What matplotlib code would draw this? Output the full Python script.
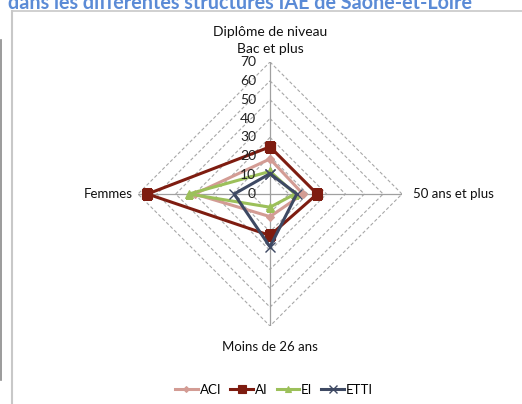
import numpy as np
import matplotlib
matplotlib.use("Agg")
import matplotlib.pyplot as plt
from matplotlib.lines import Line2D

plt.rcParams['font.family'] = ['Lato', 'DejaVu Sans']

axes_labels = ["Diplôme de niveau\nBac et plus", "50 ans et plus", "Moins de 26 ans", "Femmes"]
series_names = ["ACI", "AI", "EI", "ETTI"]
aci = [18.6, 17.5, 12, 40]
ai = [25, 25, 22, 65]
ei = [12, 13.3, 7, 43]
etti = [10.8, 14.2, 28, 19]
r_ticks = [0, 10, 20, 30, 40, 50, 60, 70]
title = "dans les différentes structures IAE de Saône-et-Loire"

colors = ["#D39C94", "#7E1C10", "#9CC05A", "#3E4963"]
markers = ["D", "s", "^", "x"]
msizes = [4, 7, 6, 7]

fig = plt.figure(figsize=(5.22, 4.04), dpi=100)
W, H = 522, 404

cx, cy, R = 270, 194, 132
ax = fig.add_axes([(cx - R) / W, 1 - (cy + R) / H, 2 * R / W, 2 * R / H], projection='polar')
ax.set_theta_offset(np.pi / 2)
ax.set_theta_direction(-1)
ax.set_ylim(0, 70)
ax.grid(False)
ax.spines['polar'].set_visible(False)
ax.set_xticks([])
ax.set_yticks([])
ax.patch.set_alpha(0)

n = len(axes_labels)
theta = np.arange(n) * 2 * np.pi / n
theta_closed = np.append(theta, theta[0])

# dashed diamond grid
for r in r_ticks[1:]:
    ax.plot(theta_closed, [r] * (n + 1), color="#A8A8A8", lw=0.8, ls=(0, (3, 2)), zorder=1)
# spokes
for t in theta:
    ax.plot([t, t], [0, 70], color="#A0A0A0", lw=0.9, zorder=1)

for name, vals, c, m, ms in zip(series_names, [aci, ai, ei, etti], colors, markers, msizes):
    v = np.append(vals, vals[0])
    ax.plot(theta_closed, v, color=c, lw=2.2, marker=m, ms=ms, mew=1.0 if m == 'x' else 0.8,
            mec=c, mfc=c, label=name, zorder=3)

# radial tick labels along top axis
for r in r_ticks:
    ax.annotate(str(r), xy=(0, r), xytext=(-10, 0), textcoords='offset points',
                ha='right', va='center', fontsize=10, color="#222222")

# axis category labels
ax.annotate(axes_labels[0], xy=(0, 70), xytext=(0, 5), textcoords='offset points',
            ha='center', va='bottom', fontsize=10, color="#111111", linespacing=1.55)
ax.annotate(axes_labels[1], xy=(theta[1], 70), xytext=(8, 0), textcoords='offset points',
            ha='left', va='center', fontsize=9.5, color="#111111")
ax.annotate(axes_labels[2], xy=(theta[2], 70), xytext=(0, -11), textcoords='offset points',
            ha='center', va='top', fontsize=9.5, color="#111111")
ax.annotate(axes_labels[3], xy=(theta[3], 70), xytext=(-4, 0), textcoords='offset points',
            ha='right', va='center', fontsize=9.5, color="#111111")

leg = fig.legend(loc='center', bbox_to_anchor=(274 / W, 1 - 390 / H), ncol=4, frameon=False,
                 fontsize=9.5, handlelength=1.7, handletextpad=0.15, columnspacing=0.7,
                 markerscale=0.75)

# title (cut at top)
fig.text(8 / W, 1 - 9 / H, title, ha='left', va='baseline', fontsize=14.2, fontweight='bold',
         color="#5B8BD6")

# frame lines
fig.add_artist(Line2D([12 / W, 1], [1 - 11 / H, 1 - 11 / H], color="#C8C8C8", lw=1.2))
fig.add_artist(Line2D([12 / W, 12 / W], [1 - 11 / H, 0], color="#C8C8C8", lw=1.5))
fig.add_artist(Line2D([1 / W, 1 / W], [1 - 40 / H, 1 - 380 / H], color="#8A8A8A", lw=1.2))

fig.savefig("out.png", dpi=100)
